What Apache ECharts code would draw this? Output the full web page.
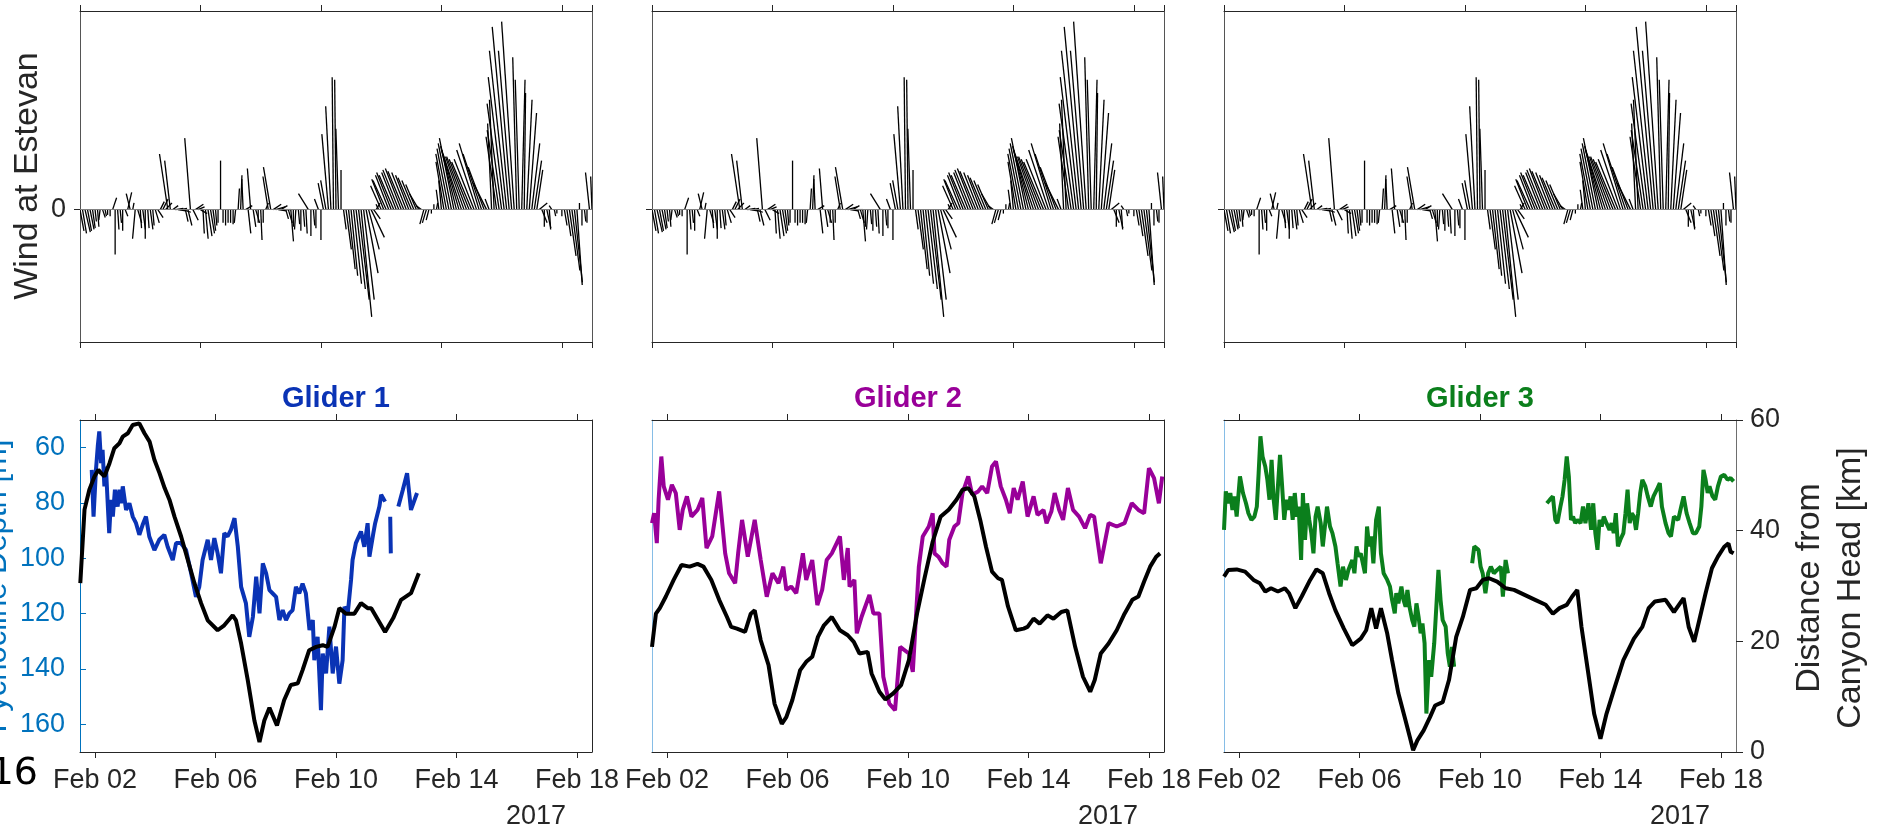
<!DOCTYPE html>
<html>
<head>
<meta charset="utf-8">
<title>Wind at Estevan and glider pycnocline depth</title>
<script src="https://cdn.jsdelivr.net/npm/echarts@6/dist/echarts.min.js"></script>
<style>
  html, body { margin: 0; padding: 0; background: #fff; }
  #chart { width: 1878px; height: 831px; }
</style>
</head>
<body>
<div id="chart"></div>
<script>
// ---------------- data ----------------
// Time is expressed as day of February 2017 (Feb 02 00:00 = 2.0).

// Wind sticks at Estevan: 2-hourly, starting Feb 01 12:00 (one row per day).
// u = eastward, v = northward component (m/s).
const windStartDay = 1.5;
const windStepDays = 1 / 12;
const windU = [
  0.3, 0.3, 0.4, 0.3, 0.3, 0.2, 0.1, 0.1, -0.1, 0.2, 0.1, 0.0,
  0.0, 0.3, 0.0, 0.1, 0.1, 0.0, 0.2, 0.3, -0.3, 0.1, -0.2, 0.3,
  0.1, 0.2, 0.0, 0.1, 0.2, 0.1, 0.3, 0.4, 0.3, 0.4, 0.5, -0.63,
  -0.43, 0.4, 0.6, 0.6, 0.5, 0.6, 0.2, 0.3, -0.43, 0.4, 0.6, 0.5,
  0.5, 0.1, 0.2, 0.3, 0.3, 0.2, 0.1, 0.0, 0.0, 0.0, 0.0, 0.0,
  0.0, 0.0, -0.1, 0.1, 0.1, -0.1, 0.5, 0.2, -0.25, 0.2, 0.3, 0.0,
  0.1, 0.0, 0.2, -0.4, -0.55, 0.6, 0.7, 0.6, 0.5, 0.6, 0.2, 0.3,
  0.2, 0.0, -0.1, 0.1, 0.0, 0.1, 0.1, -0.75, 0.0, 0.1, 0.0, -0.3,
  0.0, -0.4, -0.4, -0.5, -0.4, -0.1, -0.1, -0.2, 0.0, 0.2, 0.4, 0.5,
  0.5, 0.6, 0.7, 0.8, 0.8, 0.8, 0.9, 0.8, 1.0, 0.5, 0.3, -0.2,
  -0.8, -0.9, -1.0, -1.0, -1.1, -1.1, -1.1, -1.2, -1.2, -1.2, -1.1, -1.0,
  -1.0, -0.9, -0.8, -0.7, -0.4, -0.3, -0.3, -0.2, 0.0, 0.0, 0.1, -0.2,
  -0.2, -0.6, -0.8, -0.9, -1.0, -1.1, -1.2, -1.3, -1.4, -1.4, -1.5, -1.5,
  -1.5, -1.5, -1.5, -1.5, -1.4, -1.2, -1.0, -0.3, -0.3, -0.35, -0.8, -0.9,
  -1.1, -1.2, -1.3, -1.28, -1.0, -0.95, -0.3, -0.3, 0.25, 0.1, 0.4, 0.55,
  0.6, 0.55, 0.45, 0.6, 0.4, 0.0, 0.3, 0.1, -0.2, 0.1, 0.0, 0.0,
  0.0, 0.2, 0.3, 0.5, 0.6, 0.6, 0.4, 0.0, 0.0, 0.1, 0.0, -0.3,
  -0.1
];
const windV = [
  -1.6, -1.8, -1.7, -1.6, -1.5, -1.4, -0.9, -1.3, -0.8, -0.6, -0.5, -0.4,
  -0.5, 0.9, -3.4, -1.5, -1.0, -1.6, -0.5, 1.3, 1.2, 0.5, -2.2, -1.0,
  -1.4, -1.5, -2.2, -1.4, -1.5, -1.2, -1.0, -0.6, 0.6, 0.8, 0.5, 4.2,
  3.7, 0.3, 0.1, -0.1, 0.1, -0.2, -0.9, -1.2, 5.4, -0.8, 0.4, 0.2,
  -0.3, -1.8, -2.2, -2.0, -1.8, -1.6, -1.2, -1.0, 3.7, -1.0, -1.2, -1.0,
  -1.0, -1.1, -1.0, 1.6, 2.6, 2.3, 0.3, -1.8, 3.1, -1.3, -1.0, -1.0,
  -2.3, -1.0, 0.5, 2.5, 3.2, 0.4, 0.2, -0.1, 0.3, 0.0, -0.7, -1.0,
  -2.4, -1.3, -1.5, -1.1, -1.6, -1.3, -1.8, 1.2, -2.0, -1.2, -1.4, 0.8,
  -2.3, 2.0, 2.2, 5.7, 7.8, 10.0, 9.8, 6.1, 3.0, -1.5, -3.0, -4.5,
  -5.0, -5.6, -6.0, -6.8, -8.1, -6.8, -4.8, -3.0, -2.1, -0.7, 0.5, 0.4,
  1.8, 2.3, 2.2, 2.6, 2.8, 2.6, 2.8, 3.0, 3.1, 2.9, 2.8, 2.6,
  2.4, 2.2, 1.9, 1.2, 0.3, -1.1, -1.0, -0.8, -0.3, 0.4, 0.5, 1.5,
  2.2, 3.6, 4.2, 4.6, 5.0, 5.4, 4.8, 4.5, 4.2, 4.0, 4.0, 3.8,
  3.6, 3.8, 4.5, 5.0, 4.2, 3.2, 2.0, 0.8, 6.5, 8.3, 5.5, 6.0,
  8.0, 10.0, 12.0, 13.8, 12.0, 14.2, 11.5, 9.8, 9.8, 8.8, 8.3, 7.3,
  5.0, 3.7, 3.0, 0.5, -1.0, -1.3, -1.4, -1.5, 0.3, -0.5, -0.3, 0.0,
  -0.5, -1.2, -2.0, -3.5, -4.6, -5.5, -5.7, 0.5, -1.2, -0.9, -1.0, 2.8,
  2.5
];

// Pycnocline depth (m) along each glider track; null marks a data gap.
const glider1Depth = [
  [1.89,68],[1.95,84.9],[2.03,68],[2.09,59.5],[2.14,54.1],[2.2,65.6],[2.25,60.8],[2.31,74],
  [2.36,66.8],[2.42,80.1],[2.47,90.9],[2.53,78.9],[2.59,84.9],[2.66,75.2],[2.75,81.3],[2.81,75.2],
  [2.86,80.1],[2.92,74],[3.03,82.5],[3.14,80.1],[3.25,84.9],[3.36,87.3],[3.47,91.5],[3.58,87.9],
  [3.69,84.9],[3.8,92.1],[3.97,97],[4.13,93.3],[4.3,91.5],[4.41,95.8],[4.58,100.6],[4.69,94.5],
  [4.85,94.5],[5.02,97],[5.19,105.4],[5.35,113.9],[5.46,110.3],[5.57,100.6],[5.74,93.3],[5.85,100.6],
  [5.96,92.7],[6.07,98.2],[6.18,105.4],[6.29,90.9],[6.4,92.1],[6.51,89.7],[6.63,85.5],[6.74,95.8],
  [6.85,110.3],[7.01,116.3],[7.12,128.4],[7.24,121.2],[7.35,106.6],[7.46,119.9],[7.57,101.8],[7.68,105.4],
  [7.79,111.5],[7.9,112.7],[8.01,113.9],[8.12,122.3],[8.23,118.7],[8.34,122.3],[8.45,119.9],[8.56,118.7],
  [8.67,110.3],[8.78,112.7],[8.89,109.1],[9.0,112.7],[9.12,125.9],[9.23,122.3],[9.28,136.8],[9.39,128.4],
  [9.5,154.9],[9.56,134.4],[9.67,141.6],[9.78,124.7],[9.89,141.6],[10.0,131.9],[10.11,145.3],[10.22,136.8],
  [10.28,117.5],[10.39,119.9],[10.5,107.8],[10.55,100.6],[10.66,94.5],[10.83,90.3],[10.94,95.8],[11.05,87.3],
  [11.11,99.4],[11.24,90.9],[11.3,87.3],[11.44,81.3],[11.5,77],[11.63,79.5],[11.7,null],
  [11.8,85],[11.82,98.2],[11.9,null],
  [12.07,81.3],[12.22,75.2],[12.36,69.2],[12.49,82.5],[12.69,76.4]
];
const glider2Depth = [
  [1.5,87.3],[1.57,83.7],[1.66,94.5],[1.72,78.8],[1.81,63.2],[1.89,74],[2.03,78.8],[2.16,73.4],
  [2.29,76.4],[2.42,89.7],[2.52,82.5],[2.66,77.6],[2.81,84.9],[3.01,82.5],[3.17,78.2],[3.31,96.3],
  [3.5,92.1],[3.73,75.8],[3.93,98.2],[4.06,105.4],[4.26,109],[4.36,98.2],[4.49,86.1],[4.68,99.4],
  [4.91,86.1],[5.11,100.6],[5.31,113.9],[5.5,105.4],[5.7,109],[5.86,103],[5.96,111.4],[6.12,110.2],
  [6.29,112.6],[6.51,98.2],[6.62,107.8],[6.82,100.6],[6.99,116.9],[7.15,111.4],[7.3,100.6],[7.47,98.2],
  [7.74,92.1],[7.87,107.8],[8.0,96.3],[8.06,110.2],[8.22,107.8],[8.3,127.1],[8.46,121.1],[8.72,113.2],
  [8.85,119.9],[9.05,119.9],[9.18,142.8],[9.38,152.5],[9.57,154.9],[9.74,132],[10.03,134.4],[10.16,141],
  [10.36,103],[10.49,92.1],[10.69,88.5],[10.82,83.7],[10.88,98.2],[11.01,99.4],[11.15,101.8],[11.28,103],
  [11.37,93.3],[11.54,88.5],[11.67,87.3],[11.81,76.4],[12.0,70.4],[12.13,77],[12.33,75.8],[12.46,74],
  [12.63,76.4],[12.79,66.8],[12.92,65],[13.08,74],[13.25,78.8],[13.38,83.7],[13.51,74.6],[13.64,78.8],
  [13.81,72.2],[13.97,84.9],[14.17,77.6],[14.3,84.3],[14.5,82.5],[14.6,87.3],[14.76,83.1],[14.87,76.4],
  [15.02,82.5],[15.15,86.1],[15.31,74.6],[15.48,82.5],[15.68,84.9],[15.88,89.1],[16.05,84.3],[16.18,84.9],
  [16.4,101.8],[16.66,87.3],[16.93,88.5],[17.19,87.3],[17.43,80.1],[17.65,82.5],[17.84,83.7],[18.0,67.4],
  [18.17,71],[18.33,80.1],[18.44,70.4]
];
const glider3Depth = [
  [1.5,89.7],[1.56,75.8],[1.64,80.1],[1.71,76.4],[1.78,82.5],[1.85,77.6],[1.92,84.9],[2.03,70.4],
  [2.13,76.4],[2.23,80.1],[2.31,83.7],[2.41,86.1],[2.51,84.9],[2.59,81.3],[2.65,69.2],[2.71,55.9],
  [2.78,63.2],[2.87,66.8],[2.94,71.6],[3.01,78.8],[3.08,64.4],[3.15,78.8],[3.22,86.1],[3.29,74],
  [3.36,62.6],[3.43,74],[3.5,86.1],[3.57,78.8],[3.64,82.5],[3.71,77.6],[3.78,86.1],[3.85,76.4],
  [3.92,84.9],[3.98,81.3],[4.06,100.6],[4.12,76.4],[4.19,93.3],[4.26,80.1],[4.33,86.1],[4.4,90.9],
  [4.47,98.2],[4.54,84.9],[4.61,81.3],[4.71,87.3],[4.78,95.7],[4.85,88.5],[4.92,81.3],[5.02,88.5],
  [5.1,90.9],[5.2,95.7],[5.27,101.8],[5.37,110.2],[5.45,103],[5.55,107.8],[5.63,104.2],[5.76,100.6],
  [5.83,105.4],[5.9,95.7],[5.97,99.4],[6.04,98.2],[6.11,101.8],[6.18,105.4],[6.25,88.5],[6.32,95.7],
  [6.39,92.1],[6.46,101.8],[6.55,86.1],[6.64,81.3],[6.71,98.2],[6.8,105.4],[6.92,107.8],[7.01,110.2],
  [7.08,115],[7.17,119.9],[7.22,112.6],[7.29,116.3],[7.39,110.2],[7.46,115],[7.53,117.5],[7.59,111.4],
  [7.66,117.5],[7.75,122.3],[7.82,124.7],[7.89,116.3],[7.96,121.1],[8.03,127.1],[8.09,123.5],[8.16,130.7],
  [8.22,156.1],[8.31,136.8],[8.38,142.8],[8.48,130.7],[8.55,117.5],[8.62,104.2],[8.69,115],[8.76,122.3],
  [8.86,124.7],[8.93,134.4],[9.0,139.2],[9.07,132],[9.14,139.2],[9.4,null],
  [9.74,101.8],[9.81,95.7],[9.95,96.9],[10.02,103],[10.09,105.4],[10.18,112.6],[10.27,105.4],[10.36,103],
  [10.46,105.4],[10.57,104.2],[10.69,103],[10.76,113.8],[10.85,100.6],[10.93,105.4],[11.5,null],
  [12.22,80.1],[12.32,78.8],[12.42,77.6],[12.5,86.1],[12.57,87.3],[12.67,81.3],[12.74,77.6],[12.81,71.6],
  [12.88,63.2],[12.95,70.4],[13.02,86.1],[13.09,84.9],[13.16,87.3],[13.23,86.1],[13.34,87.3],[13.42,81.3],
  [13.5,87.3],[13.6,80.1],[13.69,89.7],[13.76,80.1],[13.83,90.9],[13.9,96.9],[13.97,86.1],[14.04,88.5],
  [14.11,84.9],[14.2,87.3],[14.3,89.7],[14.37,87.3],[14.44,90.9],[14.51,83.7],[14.58,95.7],[14.66,93.3],
  [14.76,90.9],[14.83,83.7],[14.9,75.2],[14.97,87.3],[15.04,83.7],[15.11,84.9],[15.18,89.7],[15.25,83.7],
  [15.32,76.4],[15.39,71.6],[15.49,74],[15.57,77.6],[15.67,81.3],[15.76,77.6],[15.87,75.2],[15.97,72.8],
  [16.04,81.3],[16.16,87.3],[16.26,90.9],[16.34,92.1],[16.44,84.9],[16.58,86.1],[16.68,81.3],[16.76,77.6],
  [16.86,83.7],[16.96,87.3],[17.07,90.9],[17.17,90.9],[17.28,88.5],[17.35,81.3],[17.42,68],[17.49,71.6],
  [17.56,76.4],[17.62,74],[17.72,77.6],[17.81,78.8],[17.9,74],[18.0,70.4],[18.11,69.8],[18.22,71.6],
  [18.32,71],[18.42,72.2]
];

// Distance of each glider from the canyon head (km).
const glider1Distance = [
  [1.51,30.5],[1.65,43.8],[1.81,47.4],[1.98,49.8],[2.11,51],[2.2,50.4],[2.31,49.8],[2.48,52.2],
  [2.64,54.9],[2.81,55.8],[2.92,57],[3.09,57.6],[3.25,59.1],[3.47,59.4],[3.64,57.6],[3.81,56.1],
  [3.97,52.8],[4.14,50.4],[4.31,47.7],[4.47,45.6],[4.64,42.5],[4.86,38.9],[5.08,34.7],[5.3,30.5],
  [5.52,26.9],[5.74,23.8],[6.07,22],[6.29,22.9],[6.57,24.7],[6.68,23.8],[6.85,19.6],[7.07,13],
  [7.29,5.7],[7.46,1.8],[7.62,5.7],[7.79,8],[8.04,4.8],[8.28,9.4],[8.5,12.1],[8.73,12.4],
  [8.89,14.8],[9.11,18.4],[9.34,19],[9.56,19.3],[9.72,19],[9.95,22.6],[10.11,26],[10.33,25],
  [10.61,25],[10.83,26.9],[11.05,26],[11.17,26],[11.63,21.7],[11.9,24.2],[12.16,27.5],[12.49,28.7],
  [12.75,32.3]
];
const glider2Distance = [
  [1.5,19],[1.63,25],[1.76,26],[1.96,28.1],[2.22,31.1],[2.48,33.8],[2.75,33.5],[3.01,34],
  [3.21,33.5],[3.47,31.1],[3.73,27.5],[3.99,24.4],[4.13,22.6],[4.32,22.3],[4.59,21.7],[4.78,25],
  [4.91,25.6],[5.11,20.2],[5.37,15.7],[5.57,8.7],[5.81,5.1],[5.96,6.3],[6.16,9.4],[6.42,14.8],
  [6.62,16.3],[6.82,17.2],[7.01,20.8],[7.21,22.9],[7.47,24.4],[7.74,22],[8.0,21.1],[8.2,19.9],
  [8.39,17.8],[8.66,18.1],[8.79,14.2],[9.05,10.9],[9.25,9.5],[9.51,10.6],[9.77,12.1],[10.03,16.6],
  [10.3,25],[10.56,31.7],[10.82,38],[11.08,42.5],[11.35,43.8],[11.61,45.6],[11.81,47.4],[12.0,47.7],
  [12.2,46.2],[12.4,41.9],[12.59,37.1],[12.79,32.6],[12.99,31.4],[13.12,31.1],[13.32,26.3],[13.58,22],
  [13.84,22.3],[13.97,22.6],[14.17,24.1],[14.37,23.2],[14.63,24.7],[14.83,24.1],[15.09,25.3],[15.29,25.6],
  [15.55,19],[15.81,13.6],[16.05,10.9],[16.2,13],[16.4,17.8],[16.66,19.6],[16.93,22],[17.19,25],
  [17.45,27.5],[17.65,28.1],[17.84,30.8],[18.04,33.5],[18.24,35.3],[18.37,35.9]
];
const glider3Distance = [
  [1.5,31.7],[1.64,32.9],[1.92,33],[2.2,32.6],[2.48,31.1],[2.69,30.5],[2.87,29],[3.06,29.6],
  [3.29,29],[3.52,29.6],[3.66,28.7],[3.87,26],[4.08,28.1],[4.36,31.1],[4.57,33],[4.78,32.3],
  [4.99,28.7],[5.2,25.6],[5.48,22.3],[5.76,19.3],[6.04,20.5],[6.22,22],[6.39,26],[6.55,22.3],
  [6.71,26],[6.92,21.4],[7.08,16.6],[7.29,10.6],[7.5,6.3],[7.67,2.7],[7.78,0.3],[7.92,2.1],
  [8.13,3.9],[8.34,6.3],[8.51,8.4],[8.76,9],[8.97,13],[9.21,20.8],[9.43,24.4],[9.67,29.3],
  [9.88,29.6],[10.09,31.1],[10.3,31.4],[10.57,30.8],[10.85,29.6],[11.13,29.3],[11.48,28.4],[11.83,27.5],
  [12.18,26.6],[12.42,25],[12.64,26],[12.88,26.6],[13.06,28.1],[13.23,29.3],[13.37,22.6],[13.58,14.8],
  [13.79,6.9],[14.0,2.4],[14.2,6.9],[14.48,11.8],[14.76,16.6],[15.11,20.5],[15.39,22.6],[15.6,26],
  [15.81,27.2],[16.16,27.5],[16.44,25.3],[16.76,27.8],[16.93,22.6],[17.11,19.9],[17.28,23.8],[17.49,28.7],
  [17.7,33.2],[17.9,35.3],[18.11,37.1],[18.25,37.7],[18.32,36.2],[18.42,35.9]
];

// Axis ticks and labels
const dateTicks = [2, 6, 10, 14, 18];
const dateTickLabels = ['Feb 02', 'Feb 06', 'Feb 10', 'Feb 14', 'Feb 18'];
const depthTicks = [60, 80, 100, 120, 140, 160];
const distanceTicks = [0, 20, 40, 60];
const gliderNames = ['Glider 1', 'Glider 2', 'Glider 3'];
const yearLabel = '2017';

// ---------------- layout & styles ----------------
const FONT = '"Liberation Sans", Arial, Helvetica, sans-serif';
const INK = '#262626';
const DEPTH_BLUE = '#0072BD';
const gliderColors = ['#0a33b5', '#990099', '#0b7f1c'];
const panelLeft = [80, 652, 1224];
const panelWidth = 512;
const topRow = { top: 11, height: 331 };
const bottomRow = { top: 420, height: 332 };

const windData = windU.map((u, i) => [windStartDay + i * windStepDays, u, windV[i]]);

const grids = [];
const xAxes = [];
const yAxes = [];
const series = [];

const baseLine = { onZero: false, lineStyle: { color: INK, width: 1 } };

// Top row: wind stick plots (stick drawn from the time axis, isotropic scale)
for (let k = 0; k < 3; k++) {
  const g = grids.length;
  grids.push({ left: panelLeft[k], width: panelWidth, top: topRow.top, height: topRow.height });
  ['bottom', 'top'].forEach(pos => xAxes.push({
    gridIndex: g, type: 'value', position: pos, min: 1.5, max: 18.5, interval: 4,
    axisLine: baseLine,
    axisTick: { show: true, inside: false, length: 6, lineStyle: { color: INK } },
    axisLabel: { show: false }, splitLine: { show: false }
  }));
  yAxes.push({
    gridIndex: g, type: 'value', position: 'left', min: -10, max: 15,
    axisLine: { onZero: false, lineStyle: { color: '#555', width: 1 } },
    axisTick: { show: true, customValues: [0], length: 6, lineStyle: { color: INK } },
    axisLabel: { show: k === 0, customValues: [0], color: INK, fontSize: 27, fontFamily: FONT, margin: 14 },
    splitLine: { show: false }
  });
  yAxes.push({
    gridIndex: g, type: 'value', position: 'right', min: -10, max: 15,
    axisLine: { onZero: false, lineStyle: { color: '#555', width: 1 } },
    axisTick: { show: false }, axisLabel: { show: false }, splitLine: { show: false }
  });
  series.push({
    type: 'custom',
    xAxisIndex: 2 * g, yAxisIndex: 2 * g,
    clip: true,
    silent: true,
    data: windData,
    renderItem: function (params, api) {
      const t = api.value(0), u = api.value(1), v = api.value(2);
      const base = api.coord([t, 0]);
      const tip = api.coord([t, v]);
      const pxPerUnit = api.size([0, 1])[1];
      return {
        type: 'line',
        shape: { x1: base[0], y1: base[1], x2: base[0] + u * pxPerUnit, y2: tip[1] },
        style: { stroke: '#000', lineWidth: 1.3 }
      };
    },
    markLine: {
      silent: true, symbol: 'none', label: { show: false },
      lineStyle: { color: '#808080', width: 1, type: 'solid' },
      data: [{ yAxis: 0 }]
    },
    z: 2
  });
}

// Bottom row: pycnocline depth (left axis) and distance from canyon head (right axis)
const depthSets = [glider1Depth, glider2Depth, glider3Depth];
const distanceSets = [glider1Distance, glider2Distance, glider3Distance];
for (let k = 0; k < 3; k++) {
  const g = grids.length;
  grids.push({ left: panelLeft[k], width: panelWidth, top: bottomRow.top, height: bottomRow.height });
  xAxes.push({
    gridIndex: g, type: 'value', position: 'bottom', min: 1.5, max: 18.5,
    axisLine: baseLine,
    axisTick: { show: true, inside: false, length: 6, customValues: dateTicks, lineStyle: { color: INK } },
    axisLabel: {
      show: true, customValues: dateTicks, color: INK, fontSize: 27, fontFamily: FONT, margin: 15,
      formatter: v => dateTickLabels[dateTicks.indexOf(v)]
    },
    splitLine: { show: false }
  });
  xAxes.push({
    gridIndex: g, type: 'value', position: 'top', min: 1.5, max: 18.5,
    axisLine: baseLine,
    axisTick: { show: true, inside: false, length: 6, customValues: dateTicks, lineStyle: { color: INK } },
    axisLabel: { show: false }, splitLine: { show: false }
  });
  yAxes.push({
    gridIndex: g, type: 'value', position: 'left', inverse: true, min: 50, max: 170,
    axisLine: { onZero: false, lineStyle: { color: k === 0 ? DEPTH_BLUE : '#86bde6', width: 1 } },
    axisTick: { show: k === 0, inside: true, length: 6, customValues: depthTicks, lineStyle: { color: DEPTH_BLUE } },
    axisLabel: { show: k === 0, customValues: depthTicks, color: DEPTH_BLUE, fontSize: 27, fontFamily: FONT, margin: 15 },
    splitLine: { show: false }
  });
  yAxes.push({
    gridIndex: g, type: 'value', position: 'right', min: 0, max: 60,
    axisLine: { onZero: false, lineStyle: { color: k === 2 ? '#6e6e6e' : INK, width: 1 } },
    axisTick: { show: k === 2, inside: false, length: 7, customValues: distanceTicks, lineStyle: { color: INK } },
    axisLabel: { show: k === 2, customValues: distanceTicks, color: INK, fontSize: 27, fontFamily: FONT, margin: 14 },
    splitLine: { show: false }
  });
  series.push({
    type: 'line', name: gliderNames[k],
    xAxisIndex: 2 * g, yAxisIndex: 2 * g,
    data: depthSets[k], showSymbol: false, symbol: 'none', connectNulls: false,
    lineStyle: { color: gliderColors[k], width: 4 }, itemStyle: { color: gliderColors[k] },
    silent: true, z: 3
  });
  series.push({
    type: 'line', name: gliderNames[k] + ' distance',
    xAxisIndex: 2 * g, yAxisIndex: 2 * g + 1,
    data: distanceSets[k], showSymbol: false, symbol: 'none',
    lineStyle: { color: '#000', width: 4 }, itemStyle: { color: '#000' },
    silent: true, z: 4
  });
}

// Text: titles, axis names, year labels
const graphic = [];
gliderNames.forEach((name, k) => {
  graphic.push({
    type: 'text', x: panelLeft[k] + panelWidth / 2, y: 399,
    style: { text: name, fill: gliderColors[k], font: 'bold 29px ' + FONT, align: 'center', verticalAlign: 'middle' }
  });
  graphic.push({
    type: 'text', x: panelLeft[k] + panelWidth - 56, y: 817,
    style: { text: yearLabel, fill: INK, font: '27px ' + FONT, align: 'center', verticalAlign: 'middle' }
  });
});
graphic.push({
  type: 'text', x: 28, y: 176, rotation: Math.PI / 2,
  style: { text: 'Wind at Estevan', fill: INK, font: '34px ' + FONT, align: 'center', verticalAlign: 'middle' }
});
graphic.push({
  type: 'text', x: -3, y: 586, rotation: Math.PI / 2,
  style: { text: 'Pycnocline Depth [m]', fill: DEPTH_BLUE, font: '31px ' + FONT, align: 'center', verticalAlign: 'middle' }
});
graphic.push({
  type: 'text', x: 1810, y: 588, rotation: Math.PI / 2,
  style: { text: 'Distance from', fill: INK, font: '34px ' + FONT, align: 'center', verticalAlign: 'middle' }
});
graphic.push({
  type: 'text', x: 1851, y: 588, rotation: Math.PI / 2,
  style: { text: 'Canyon Head [km]', fill: INK, font: '34px ' + FONT, align: 'center', verticalAlign: 'middle' }
});
graphic.push({
  type: 'text', x: 38, y: 774,
  style: { text: '16', fill: '#000', font: '38px "DejaVu Sans", sans-serif', align: 'right', verticalAlign: 'middle' }
});

const chart = echarts.init(document.getElementById('chart'), null, { renderer: 'canvas' });
chart.setOption({
  animation: false,
  backgroundColor: '#ffffff',
  grid: grids,
  xAxis: xAxes,
  yAxis: yAxes,
  series: series,
  graphic: graphic
});
</script>
</body>
</html>
